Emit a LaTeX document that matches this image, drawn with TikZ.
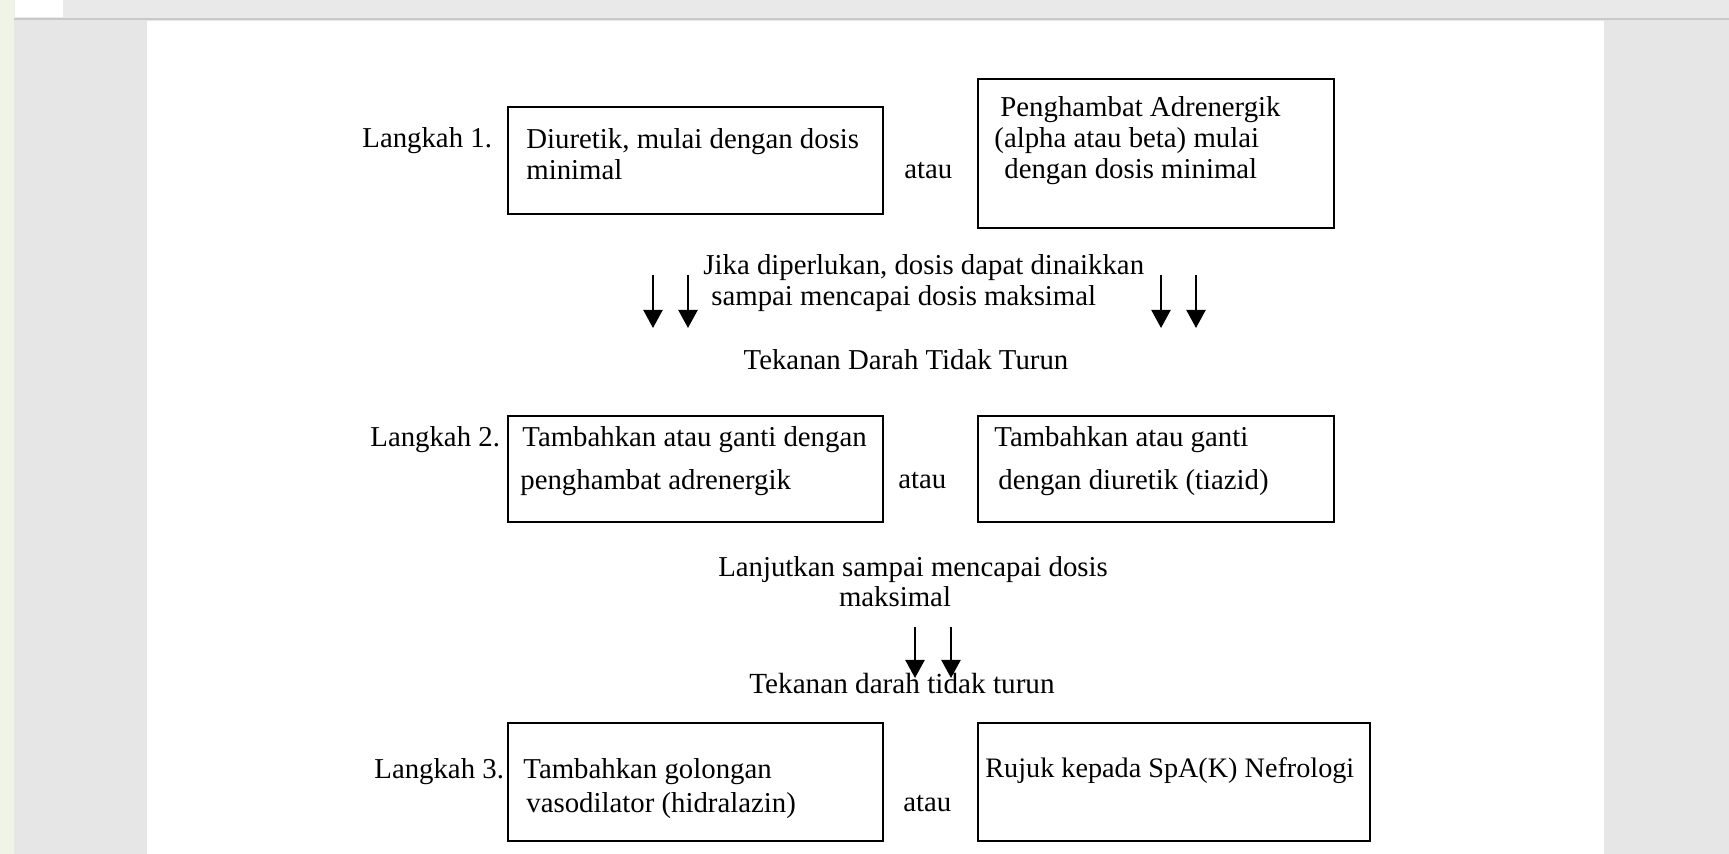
\documentclass[tikz,border=0pt]{standalone}
\usepackage{fontspec}
\setmainfont{Liberation Serif}
\usepackage{tikz}
\usetikzlibrary{arrows.meta, positioning}
\definecolor{sideGreen}{HTML}{F0F4E6}
\definecolor{frameGrey}{HTML}{E6E6E6}
\definecolor{barGrey}{HTML}{E9E9E9}
\definecolor{barLine}{HTML}{C9C9C9}
\tikzstyle{box} = [draw, line width=1.2pt, inner sep=0pt]
\tikzstyle{txt} = [anchor=west, inner sep=0pt, align=left, font=\fontsize{14.4}{15.5}\selectfont]
\tikzstyle{mid} = [txt, anchor=center, align=center]
\tikzstyle{arr} = [line width=1.1pt, -{Triangle[width=9.5pt, length=9pt]}]

\begin{document}
\begin{tikzpicture}[x=0.5pt, y=-0.5pt]
			\useasboundingbox (0, 0) rectangle (1729, 854);

			% screen round the page
			\fill [frameGrey] (0, 0) rectangle (1729, 854);
			\fill [sideGreen] (0, 0) rectangle (14, 854);
			\fill [barGrey] (14, 0) rectangle (1729, 19);
			\fill [white] (15, 0) rectangle (63, 17);
			\draw [barLine, line width=1pt] (14, 19.5) -- (1729, 19.5);
			\fill [white] (147, 21) rectangle (1604, 854);

			% step 1
			\node (Step1) [txt] at (362, 141) {Langkah 1.};
			\node (DiuretikBox) [box, minimum width=187.5pt, minimum height=53.5pt] at (695.5, 160.5) {};
			\node (Diuretik) [txt] at (526, 154) {Diuretik, mulai dengan dosis\\minimal};
			\node (Atau1) [txt] at (904, 171) {atau};
			\node (AdrenergikBox) [box, minimum width=178pt, minimum height=74.5pt] at (1156, 153.5) {};
			\node (Adrenergik) [txt] at (994, 141) {\hspace*{3pt}Penghambat Adrenergik\\(alpha atau beta) mulai\\\hspace*{5pt}dengan dosis minimal};

			\node (Naik) [txt] at (703, 283) {Jika diperlukan, dosis dapat dinaikkan\\\hspace*{4pt}sampai mencapai dosis maksimal};

			\coordinate (A1) at (653, 275);
			\coordinate (A1e) at (653, 328);
			\coordinate (A2) at (688, 275);
			\coordinate (A2e) at (688, 328);
			\coordinate (A3) at (1161, 275);
			\coordinate (A3e) at (1161, 328);
			\coordinate (A4) at (1196, 275);
			\coordinate (A4e) at (1196, 328);
			\draw [arr] (A1) -- (A1e);
			\draw [arr] (A2) -- (A2e);
			\draw [arr] (A3) -- (A3e);
			\draw [arr] (A4) -- (A4e);

			\node (Tekanan1) [mid] at (906, 360) {Tekanan Darah Tidak Turun};

			% step 2
			\node (Step2) [txt] at (370, 440) {Langkah 2.};
			\node (GantiAdrBox) [box, minimum width=187.5pt, minimum height=53pt] at (695.5, 469) {};
			\node (GantiAdr) [txt, font=\fontsize{14.4}{21.5}\selectfont] at (520, 461) {\hspace*{1pt}Tambahkan atau ganti dengan\\penghambat adrenergik};
			\node (Atau2) [txt] at (898, 481) {atau};
			\node (GantiDiuBox) [box, minimum width=178pt, minimum height=53pt] at (1156, 469) {};
			\node (GantiDiu) [txt, font=\fontsize{14.4}{21.5}\selectfont] at (994, 461) {Tambahkan atau ganti\\\hspace*{2pt}dengan diuretik (tiazid)};

			\node (Lanjut) [mid, font=\fontsize{14.4}{15}\selectfont] at (913, 582) {Lanjutkan sampai mencapai dosis\\maksimal\hspace*{18pt}};

			\coordinate (B1) at (915, 627);
			\coordinate (B1e) at (915, 678);
			\coordinate (B2) at (951, 627);
			\coordinate (B2e) at (951, 678);

			\node (Tekanan2) [mid, font=\fontsize{14.6}{15.5}\selectfont] at (902, 684) {Tekanan darah tidak turun};

			\draw [arr] (B1) -- (B1e);
			\draw [arr] (B2) -- (B2e);

			% step 3
			\node (Step3) [txt] at (374, 772) {Langkah 3.};
			\node (VasodilBox) [box, minimum width=187.5pt, minimum height=59pt] at (695.5, 782) {};
			\node (Vasodil) [txt, font=\fontsize{14.4}{17}\selectfont] at (523, 789) {Tambahkan golongan\\\hspace*{1.5pt}vasodilator (hidralazin)};
			\node (Atau3) [txt] at (903, 804) {atau};
			\node (RujukBox) [box, minimum width=196pt, minimum height=59pt] at (1174, 782) {};
			\node (Rujuk) [txt, font=\fontsize{14.1}{15.5}\selectfont] at (985, 771) {Rujuk kepada SpA(K) Nefrologi};
		\end{tikzpicture}
\end{document}
